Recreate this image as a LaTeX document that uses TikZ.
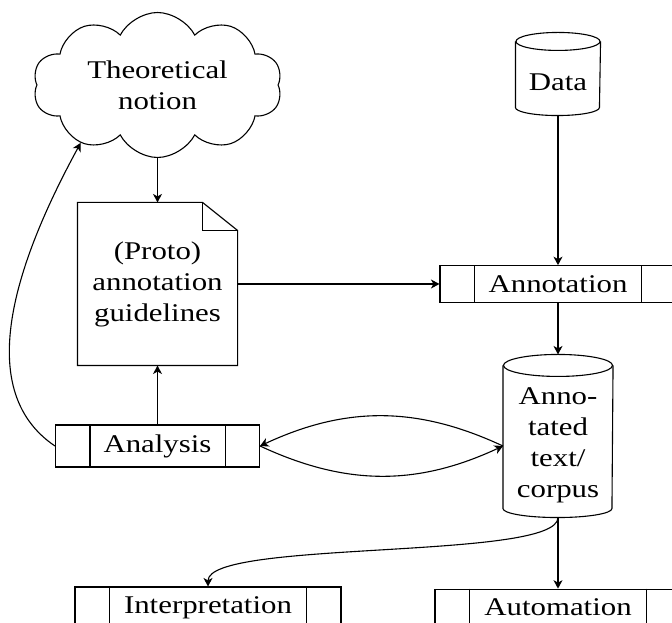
\documentclass[tikz,border=0pt]{standalone}
\usepackage{fontspec}
\setmainfont{Liberation Serif}[FakeStretch=1.21]
\usetikzlibrary{shapes.symbols,arrows.meta,calc}
\newcommand\procdividers[1]{%
  \draw ([xshift=35pt]#1.north west) -- ([xshift=35pt]#1.south west);
  \draw ([xshift=-35pt]#1.north east) -- ([xshift=-35pt]#1.south east);}
\newcommand\cylinderoutline[4]{% node, half width, top ry, bottom ry
  \draw ($(#1.north)+(0,-#3)$) ellipse [x radius=#2, y radius=#3];
  \draw ($(#1.north west)+(0,-#3)$) -- ($(#1.south west)+(0,#4)$)
    arc[start angle=180, end angle=360, x radius=#2, y radius=#4]
    -- ($(#1.north east)+(0,-#3)$);}
\begin{document}
\begin{tikzpicture}[x=1pt,y=1pt,
  line width=1.1pt,
  every node/.style={font=\fontsize{25.5}{31}\selectfont},
  >={Stealth[length=8.5pt,width=9pt,inset=2.5pt]},
  procbox/.style={draw, rectangle, inner sep=0pt, minimum height=36.6pt},
  plain/.style={rectangle, inner sep=0pt},
  textonly/.style={inner sep=0pt, align=center}
]
\useasboundingbox (0,0) rectangle (672,623);

% cloud
\node[draw, cloud, cloud puffs=10, cloud puff arc=125, aspect=2,
      minimum width=249pt, minimum height=145pt, inner sep=0pt, align=center]
      (cloud) at (157.5,538) {Theoretical\\notion};

% guidelines document
\node[plain, minimum width=159pt, minimum height=162pt, align=center]
      (guide) at (157.5,339) {(Proto)\\annotation\\guidelines};
\draw (guide.north west) -- ([xshift=-35pt]guide.north east)
      -- ([yshift=-28pt]guide.north east) -- (guide.south east)
      -- (guide.south west) -- cycle;
\draw ([xshift=-35pt]guide.north east) -- ([xshift=-35pt,yshift=-28pt]guide.north east)
      -- ([yshift=-28pt]guide.north east);

% data cylinder
\node[plain, minimum width=84pt, minimum height=82pt] (data) at (558,549) {};
\cylinderoutline{data}{42pt}{9pt}{8pt}
\node[textonly] (datatxt) at (558,541) {Data};

% annotation
\node[procbox, minimum width=236pt] (annot) at (558,339) {Annotation};
\procdividers{annot}

% corpus cylinder
\node[plain, minimum width=109pt, minimum height=162pt] (corpus) at (558,187) {};
\cylinderoutline{corpus}{54.5pt}{11pt}{9pt}
\node[textonly] (corpustxt) at (558,178) {Anno-\\tated\\text/\\corpus};

% analysis
\node[procbox, minimum width=204pt, minimum height=42pt] (analysis) at (157.5,177) {Analysis};
\procdividers{analysis}

% interpretation
\node[procbox, minimum width=266pt, minimum height=42pt] (interp) at (208,15) {Interpretation};
\procdividers{interp}

% automation
\node[procbox, minimum width=246pt] (autom) at (558,15.5) {Automation};
\procdividers{autom}

% connectors
\draw[->] (cloud.south) -- (guide.north);
\draw[->] (analysis.north) -- (guide.south);
\draw[->] (guide.east) -- (annot.west);
\draw[->] (data.south) -- (annot.north);
\draw[->] (annot.south) -- (corpus.north);
\draw[->] (corpus.south) -- (autom.north);
\draw[->] (corpus.south) .. controls +(0,-43) and +(0,47) .. (interp.north);
\coordinate (cw) at (analysis.east -| corpus.west);
\draw[->] (cw) to[bend right=25] (analysis.east);
\draw[->] (analysis.east) to[bend right=25] (cw);
\draw[->] (analysis.west) .. controls +(-86,58) and +(-60,-110) .. (cloud.217);
\end{tikzpicture}
\end{document}
